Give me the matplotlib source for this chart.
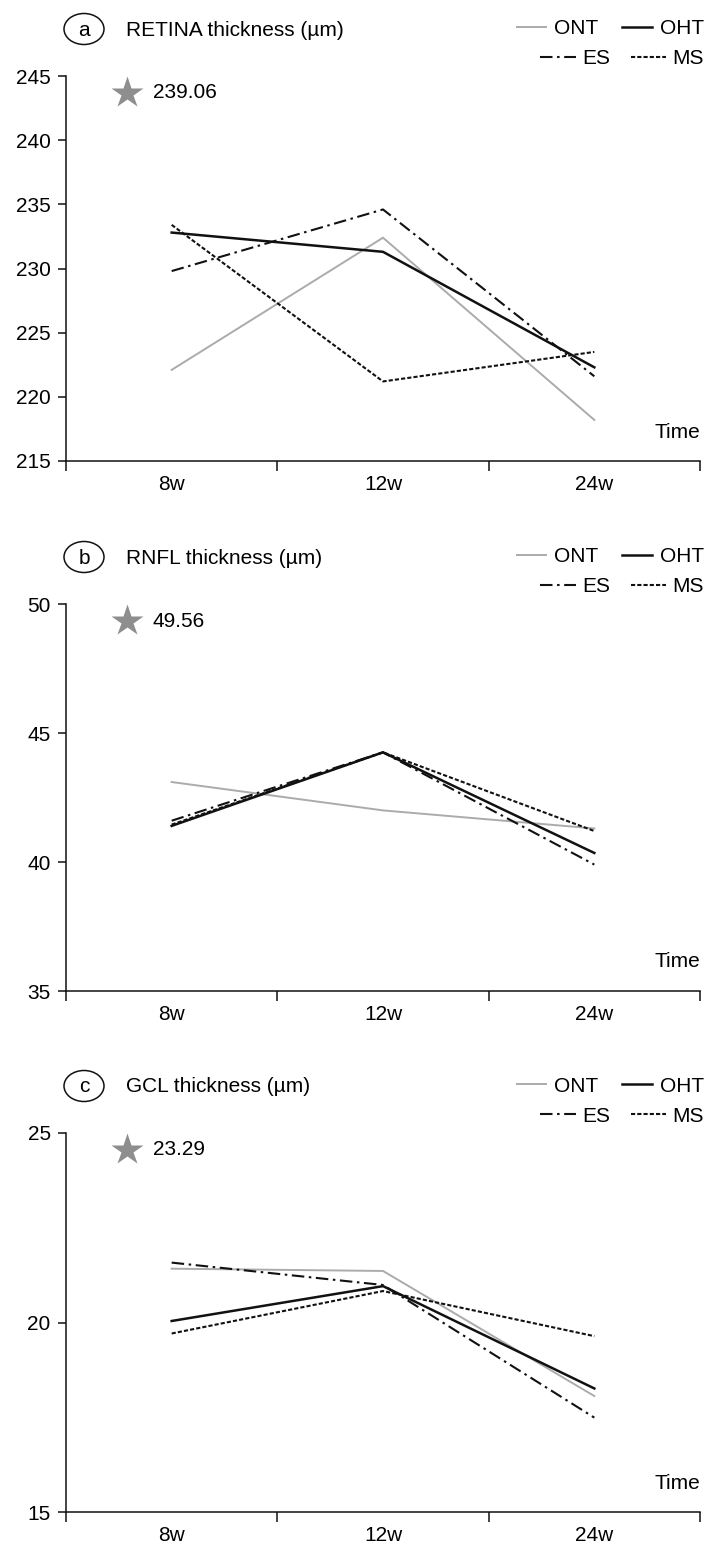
import matplotlib
matplotlib.use("Agg")
import matplotlib.pyplot as plt
from matplotlib.patches import Ellipse
import numpy as np

plt.rcParams['font.family'] = ['Liberation Sans', 'DejaVu Sans']
plt.rcParams['font.size'] = 15

times = ["8w", "12w", "24w"]
groups = ["ONT", "OHT", "ES", "MS"]

retina_ont = [222.1, 232.4, 218.2]
retina_oht = [232.8, 231.3, 222.3]
retina_es = [229.8, 234.6, 221.6]
retina_ms = [233.4, 221.2, 223.5]

rnfl_ont = [43.1, 42.0, 41.3]
rnfl_oht = [41.4, 44.25, 40.35]
rnfl_es = [41.6, 44.25, 39.9]
rnfl_ms = [41.45, 44.25, 41.2]

gcl_ont = [21.42, 21.36, 18.06]
gcl_oht = [20.04, 20.96, 18.26]
gcl_es = [21.58, 20.99, 17.49]
gcl_ms = [19.71, 20.83, 19.64]

panel_letters = ["a", "b", "c"]
panel_titles = ["RETINA thickness (µm)", "RNFL thickness (µm)", "GCL thickness (µm)"]
reference_values = ["239.06", "49.56", "23.29"]
y_limits = [(215, 245), (35, 50), (15, 25)]
y_steps = [5, 5, 5]

panel_data = [
    [retina_ont, retina_oht, retina_es, retina_ms],
    [rnfl_ont, rnfl_oht, rnfl_es, rnfl_ms],
    [gcl_ont, gcl_oht, gcl_es, gcl_ms],
]

W, H = 708, 1562
fig = plt.figure(figsize=(W / 100, H / 100), dpi=100)
fig.patch.set_facecolor("white")

ax_left, ax_right = 66, 700
tops = [76, 604, 1133]
bottoms = [461, 991, 1512]

styles = {
    "ONT": dict(color="#ababab", lw=1.4),
    "OHT": dict(color="#111111", lw=1.8),
    "ES": dict(color="#111111", lw=1.5, dashes=(6, 2.2, 1.2, 2.2)),
    "MS": dict(color="#111111", lw=1.5, dashes=(2, 1)),
}

def fx(px):
    return px / W

def fy(py):
    return 1 - py / H

for i in range(3):
    top, bot = tops[i], bottoms[i]
    ax = fig.add_axes([fx(ax_left), fy(bot), (ax_right - ax_left) / W, (bot - top) / H])
    x = np.arange(len(times)) + 0.5
    handles = {}
    for g, vals in zip(groups, panel_data[i]):
        st = styles[g]
        kw = dict(color=st["color"], lw=st["lw"])
        if "dashes" in st:
            kw["dashes"] = st["dashes"]
        (ln,) = ax.plot(x, vals, label=g, solid_joinstyle="miter", **kw)
        handles[g] = ln
    lo, hi = y_limits[i]
    ax.set_ylim(lo, hi)
    ax.set_xlim(0, len(times))
    ax.set_yticks(np.arange(lo, hi + 0.1, y_steps[i]))
    ax.set_xticks(np.arange(0, len(times) + 1))
    ax.set_xticklabels([])
    ax.set_xticks(x, minor=True)
    ax.set_xticklabels(times, minor=True)
    ax.tick_params(axis="x", which="major", length=7, width=1.1, direction="out", color="#111111")
    ax.tick_params(axis="x", which="minor", length=0, pad=10, labelsize=15)
    ax.tick_params(axis="y", length=6, width=1.1, pad=5, labelsize=15, color="#111111")
    for s in ["top", "right"]:
        ax.spines[s].set_visible(False)
    for s in ["left", "bottom"]:
        ax.spines[s].set_linewidth(1.1)
        ax.spines[s].set_color("#111111")
    ax.set_facecolor("none")

    # star + reference value
    ax.plot([0.097 * len(times)], [lo + 0.956 * (hi - lo)], marker="*", ms=24,
            color="#8e8e8e", mec="none", clip_on=False)
    ax.text(0.137, 0.956, reference_values[i], transform=ax.transAxes,
            ha="left", va="center", fontsize=15)
    ax.text(1.0, 0.075, "Time", transform=ax.transAxes, ha="right", va="center", fontsize=15)

    # panel letter and title
    cy = top - 47
    fig.add_artist(Ellipse((fx(84), fy(cy)), 40 / W, 31 / H, transform=fig.transFigure,
                           fill=False, ec="#111111", lw=1.1))
    fig.text(fx(84), fy(cy + 1), panel_letters[i], ha="center", va="center", fontsize=15)
    fig.text(fx(126), fy(cy + 1), panel_titles[i], ha="left", va="center", fontsize=15)

    # legends (two right-aligned rows)
    fig.legend([handles["ONT"], handles["OHT"]], ["ONT", "OHT"], ncol=2,
               loc="center right", bbox_to_anchor=(fx(704), fy(top - 47)),
               frameon=False, borderpad=0, borderaxespad=0, handlelength=1.4,
               handletextpad=0.4, columnspacing=1.15, fontsize=15)
    fig.legend([handles["ES"], handles["MS"]], ["ES", "MS"], ncol=2,
               loc="center right", bbox_to_anchor=(fx(704), fy(top - 17)),
               frameon=False, borderpad=0, borderaxespad=0, handlelength=1.7,
               handletextpad=0.3, columnspacing=1.0, fontsize=15)

fig.savefig("out.png", dpi=100, facecolor="white")
